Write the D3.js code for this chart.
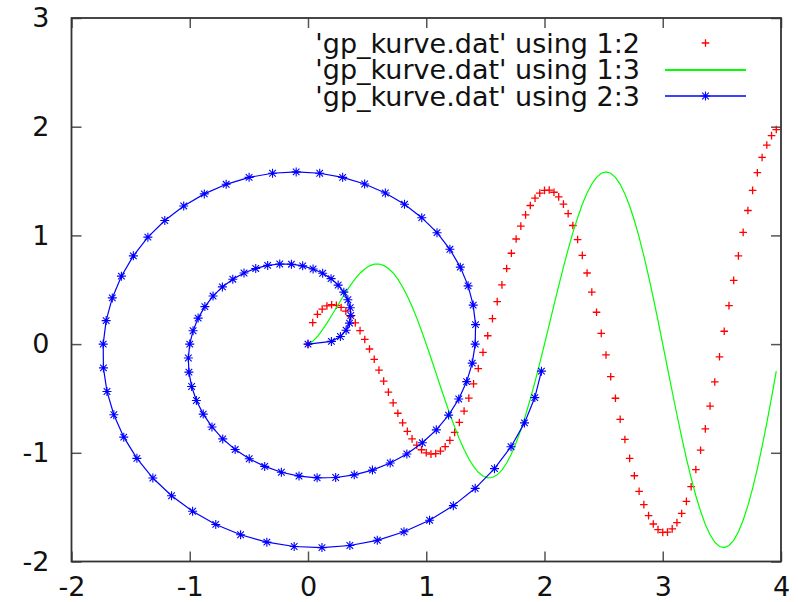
<!DOCTYPE html>
<html>
<head>
<meta charset="utf-8">
<script src="https://cdn.jsdelivr.net/npm/d3@7"></script>
<style>
  body { margin: 0; background: #fff; }
  svg { display: block; }
  text { font-family: 'DejaVu Sans', sans-serif; fill: #111; }
</style>
</head>
<body>
<svg width="798" height="602"></svg>
<script>
// gp_kurve.dat, column 1
let tValues = [
  0, 0.04, 0.08, 0.12, 0.16, 0.2, 0.24, 0.28, 0.32, 0.36,
  0.4, 0.44, 0.48, 0.52, 0.56, 0.6, 0.64, 0.68, 0.72, 0.76,
  0.8, 0.84, 0.88, 0.92, 0.96, 1, 1.04, 1.08, 1.12, 1.16,
  1.2, 1.24, 1.28, 1.32, 1.36, 1.4, 1.44, 1.48, 1.52, 1.56,
  1.6, 1.64, 1.68, 1.72, 1.76, 1.8, 1.84, 1.88, 1.92, 1.96,
  2, 2.04, 2.08, 2.12, 2.16, 2.2, 2.24, 2.28, 2.32, 2.36,
  2.4, 2.44, 2.48, 2.52, 2.56, 2.6, 2.64, 2.68, 2.72, 2.76,
  2.8, 2.84, 2.88, 2.92, 2.96, 3, 3.04, 3.08, 3.12, 3.16,
  3.2, 3.24, 3.28, 3.32, 3.36, 3.4, 3.44, 3.48, 3.52, 3.56,
  3.6, 3.64, 3.68, 3.72, 3.76, 3.8, 3.84, 3.88, 3.92, 3.96
]
// column 2
let col2 = [
  0, 0.198, 0.274, 0.322, 0.351, 0.362, 0.357, 0.337, 0.303, 0.255,
  0.195, 0.124, 0.043, -0.045, -0.14, -0.239, -0.341, -0.442, -0.541, -0.636,
  -0.724, -0.803, -0.872, -0.929, -0.972, -1, -1.012, -1.007, -0.984, -0.944,
  -0.886, -0.812, -0.721, -0.616, -0.497, -0.366, -0.225, -0.076, 0.077, 0.234,
  0.391, 0.545, 0.695, 0.836, 0.967, 1.085, 1.189, 1.275, 1.342, 1.389,
  1.414, 1.417, 1.397, 1.354, 1.288, 1.2, 1.091, 0.962, 0.816, 0.654,
  0.479, 0.293, 0.099, -0.1, -0.3, -0.498, -0.692, -0.877, -1.051, -1.211,
  -1.354, -1.477, -1.578, -1.655, -1.707, -1.732, -1.73, -1.7, -1.642, -1.558,
  -1.447, -1.312, -1.154, -0.976, -0.78, -0.57, -0.348, -0.117, 0.118, 0.354,
  0.586, 0.812, 1.028, 1.229, 1.414, 1.577, 1.717, 1.831, 1.918, 1.974
]
// column 3
let col3 = [
  0, 0.025, 0.07, 0.128, 0.193, 0.263, 0.335, 0.408, 0.478, 0.543,
  0.602, 0.652, 0.691, 0.72, 0.735, 0.737, 0.724, 0.696, 0.654, 0.597,
  0.526, 0.442, 0.345, 0.239, 0.123, 0, -0.128, -0.258, -0.39, -0.519,
  -0.644, -0.762, -0.872, -0.97, -1.055, -1.125, -1.179, -1.214, -1.23, -1.227,
  -1.203, -1.159, -1.094, -1.011, -0.908, -0.789, -0.653, -0.505, -0.345, -0.175,
  0, 0.179, 0.359, 0.536, 0.708, 0.872, 1.025, 1.163, 1.286, 1.39,
  1.473, 1.534, 1.572, 1.584, 1.572, 1.534, 1.47, 1.382, 1.271, 1.137,
  0.984, 0.812, 0.625, 0.425, 0.216, 0, -0.219, -0.436, -0.65, -0.856,
  -1.051, -1.232, -1.395, -1.538, -1.659, -1.754, -1.822, -1.862, -1.872, -1.853,
  -1.805, -1.726, -1.62, -1.486, -1.327, -1.146, -0.944, -0.725, -0.492, -0.249
]

let xTicks = [-2, -1, 0, 1, 2, 3, 4]
let yTicks = [-2, -1, 0, 1, 2, 3]
let legendLabels = [
  "'gp_kurve.dat' using 1:2",
  "'gp_kurve.dat' using 1:3",
  "'gp_kurve.dat' using 2:3"
]

let width = 798
let height = 602
let margin = {
  top: 18,
  bottom: 40.5,
  left: 71.5,
  right: 17
}
let fontSize = 27

let rows = tValues.map((t, i) => ({ t: t, c2: col2[i], c3: col3[i] }))

let xScale = d3.scaleLinear()
  .domain([-2, 4])
  .range([margin.left, width - margin.right])

let yScale = d3.scaleLinear()
  .domain([-2, 3])
  .range([height - margin.bottom, margin.top])

let svg = d3.select('svg')

// plus and star point shapes (gnuplot pt 1 and pt 3)
let plusPath = 'M-3.8,0H3.8M0,-3.8V3.8'
let starPath = 'M-4.5,0H4.5M0,-4.5V4.5M-3.3,-3.3L3.3,3.3M-3.3,3.3L3.3,-3.3'

/*
  axes: ticks point inward on all four sides
*/
let tickLen = -10
let fmt = d => String(d)

svg.append('g')
  .attr('transform', `translate(0,${yScale(-2)})`)
  .call(d3.axisBottom(xScale).tickValues(xTicks).tickFormat(fmt)
    .tickSizeInner(tickLen).tickSizeOuter(0).tickPadding(15))

svg.append('g')
  .attr('transform', `translate(0,${yScale(3)})`)
  .call(d3.axisTop(xScale).tickValues(xTicks).tickFormat('')
    .tickSizeInner(tickLen).tickSizeOuter(0))

svg.append('g')
  .attr('transform', `translate(${xScale(-2)},0)`)
  .call(d3.axisLeft(yScale).tickValues(yTicks).tickFormat(fmt)
    .tickSizeInner(tickLen).tickSizeOuter(0).tickPadding(22))

svg.append('g')
  .attr('transform', `translate(${xScale(4)},0)`)
  .call(d3.axisRight(yScale).tickValues(yTicks).tickFormat('')
    .tickSizeInner(tickLen).tickSizeOuter(0))

svg.selectAll('.domain').remove()
svg.selectAll('.tick line')
  .attr('stroke', '#555')
  .attr('stroke-width', 1.5)
svg.selectAll('.tick text')
  .attr('font-family', 'DejaVu Sans')
  .attr('font-size', fontSize)
  .attr('fill', '#111')

// border
svg.append('rect')
  .attr('x', xScale(-2))
  .attr('y', yScale(3))
  .attr('width', xScale(4) - xScale(-2))
  .attr('height', yScale(-2) - yScale(3))
  .attr('fill', 'none')
  .attr('stroke', '#333')
  .attr('stroke-width', 1.8)

/*
  using 1:2  -> red plus points
*/
svg.append('g')
  .selectAll('path')
  .data(rows)
  .enter()
  .append('path')
  .attr('transform', d => `translate(${xScale(d.t)},${yScale(d.c2)})`)
  .attr('d', plusPath)
  .attr('stroke', '#ff0000')
  .attr('stroke-width', 1.3)
  .attr('fill', 'none')

/*
  using 1:3  -> green line
*/
let line13 = d3.line()
  .x(d => xScale(d.t))
  .y(d => yScale(d.c3))

svg.append('path')
  .attr('d', line13(rows))
  .attr('fill', 'none')
  .attr('stroke', '#00ff00')
  .attr('stroke-width', 1.2)

/*
  using 2:3  -> blue line with star points
*/
let line23 = d3.line()
  .x(d => xScale(d.c2))
  .y(d => yScale(d.c3))

svg.append('path')
  .attr('d', line23(rows))
  .attr('fill', 'none')
  .attr('stroke', '#0000ff')
  .attr('stroke-width', 1.2)

svg.append('g')
  .selectAll('path')
  .data(rows)
  .enter()
  .append('path')
  .attr('transform', d => `translate(${xScale(d.c2)},${yScale(d.c3)})`)
  .attr('d', starPath)
  .attr('stroke', '#0000ff')
  .attr('stroke-width', 1.1)
  .attr('fill', 'none')

/*
  key, top right: one text block, one line per plot
*/
let key = svg.append('g')
let keyTextX = 640
let keyBase = 52.5
let keyStep = 26.5
let sampleX0 = 665
let sampleX1 = 746

key.append('text')
  .attr('text-anchor', 'end')
  .attr('font-size', fontSize)
  .selectAll('tspan')
  .data(legendLabels)
  .enter()
  .append('tspan')
  .attr('x', keyTextX)
  .attr('y', (d, i) => keyBase + i * keyStep)
  .text(d => d)

let sampleY = i => Math.round(keyBase + i * keyStep - 9.5)

key.append('path')
  .attr('transform', `translate(${(sampleX0 + sampleX1) / 2},${sampleY(0)})`)
  .attr('d', plusPath)
  .attr('stroke', '#ff0000')
  .attr('stroke-width', 1.3)

key.append('line')
  .attr('x1', sampleX0).attr('x2', sampleX1)
  .attr('y1', sampleY(1)).attr('y2', sampleY(1))
  .attr('stroke', '#00ff00')
  .attr('stroke-width', 2)

key.append('line')
  .attr('x1', sampleX0).attr('x2', sampleX1)
  .attr('y1', sampleY(2)).attr('y2', sampleY(2))
  .attr('stroke', '#0000ff')
  .attr('stroke-width', 1.3)

key.append('path')
  .attr('transform', `translate(${(sampleX0 + sampleX1) / 2},${sampleY(2)})`)
  .attr('d', starPath)
  .attr('stroke', '#0000ff')
  .attr('stroke-width', 1.1)
</script>
</body>
</html>
